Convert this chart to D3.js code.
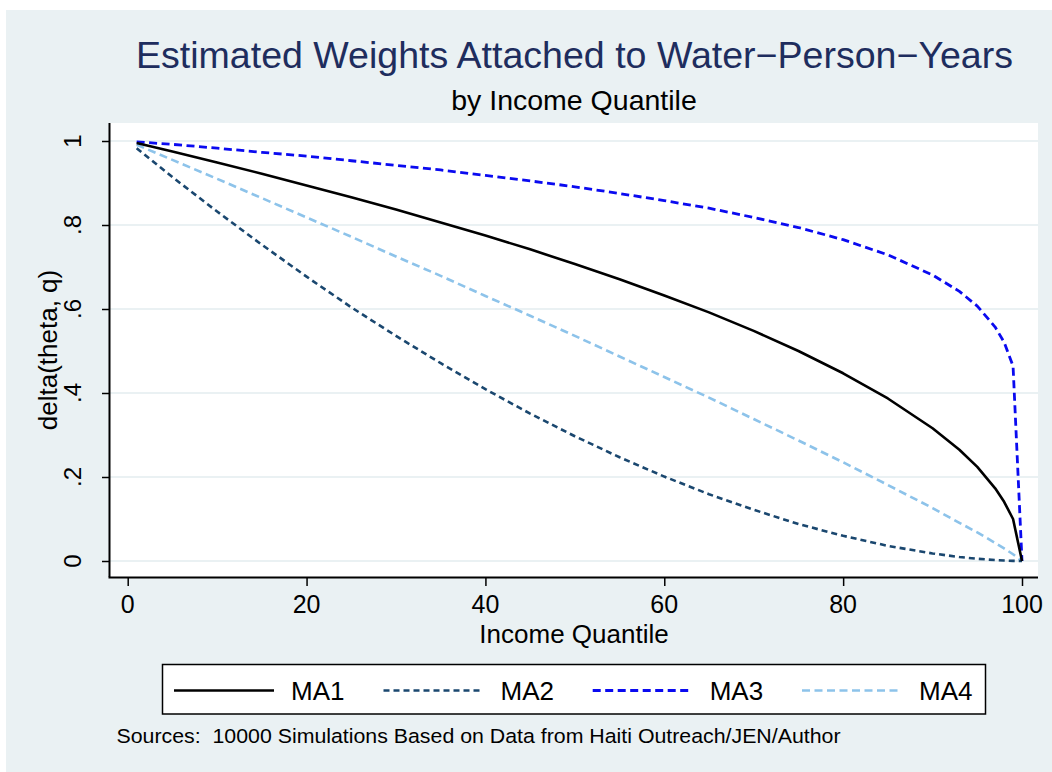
<!DOCTYPE html>
<html>
<head>
<meta charset="utf-8">
<script src="https://cdn.jsdelivr.net/npm/d3@7"></script>
<style>
  html, body { margin: 0; padding: 0; background: #ffffff; }
  svg { display: block; }
  text { font-family: "Liberation Sans", Arial, Helvetica, sans-serif; }
</style>
</head>
<body>
<svg id="chart" width="1052" height="772"></svg>
<script>
// ---- data ----
const quantiles = [1, 5, 10, 15, 20, 25, 30, 35, 40, 45, 50, 55, 60, 65, 70, 75, 80, 85, 90, 93, 95, 97, 98, 99, 100];
const ma1 = [0.995, 0.975, 0.949, 0.922, 0.894, 0.866, 0.837, 0.806, 0.775, 0.742, 0.707, 0.671, 0.632, 0.592, 0.548, 0.500, 0.447, 0.387, 0.316, 0.265, 0.224, 0.173, 0.141, 0.100, 0];
const ma2 = [0.983, 0.914, 0.832, 0.753, 0.677, 0.604, 0.536, 0.471, 0.409, 0.351, 0.297, 0.247, 0.201, 0.159, 0.122, 0.088, 0.060, 0.036, 0.018, 0.0095, 0.0053, 0.0022, 0.0011, 0.0003, 0];
const ma3 = [0.998, 0.992, 0.983, 0.973, 0.964, 0.953, 0.942, 0.931, 0.918, 0.905, 0.891, 0.875, 0.858, 0.840, 0.818, 0.794, 0.765, 0.729, 0.681, 0.642, 0.607, 0.557, 0.521, 0.464, 0];
const ma4 = [0.991, 0.955, 0.910, 0.864, 0.818, 0.772, 0.725, 0.679, 0.631, 0.584, 0.536, 0.487, 0.438, 0.389, 0.338, 0.287, 0.235, 0.181, 0.126, 0.091, 0.068, 0.043, 0.030, 0.016, 0];
const seriesNames = ["MA1", "MA2", "MA3", "MA4"];
const xTicks = [0, 20, 40, 60, 80, 100];
const yTicks = [0, 0.2, 0.4, 0.6, 0.8, 1];
const yTickLabels = ["0", ".2", ".4", ".6", ".8", "1"];
const titleText = "Estimated Weights Attached to Water\u2212Person\u2212Years";
const subtitleText = "by Income Quantile";
const xTitle = "Income Quantile";
const yTitle = "delta(theta, q)";
const noteText = "Sources:  10000 Simulations Based on Data from Haiti Outreach/JEN/Author";

// ---- styling ----
const styles = [
  { color: "#000000", dash: null, width: 2.6 },
  { color: "#1a476f", dash: "6,4", width: 2.6 },
  { color: "#0a0af0", dash: "8,4.5", width: 2.8 },
  { color: "#8dc3ea", dash: "8,4.5", width: 2.6 }
];
const bgColor = "#eaf1f3";
const gridColor = "#eaf1f3";

const svg = d3.select("#chart");

// outer graph region
svg.append("rect").attr("x", 6).attr("y", 10).attr("width", 1046).attr("height", 762).attr("fill", bgColor);

// plot region
const plot = { left: 110, top: 123, right: 1038, bottom: 577 };
svg.append("rect").attr("x", plot.left).attr("y", plot.top)
  .attr("width", plot.right - plot.left).attr("height", plot.bottom - plot.top).attr("fill", "#ffffff");

const x = d3.scaleLinear().domain([0, 100]).range([127.7, 1022]);
const y = d3.scaleLinear().domain([0, 1]).range([561, 141]);

// gridlines
svg.append("g").selectAll("line").data(yTicks).join("line")
  .attr("x1", plot.left).attr("x2", plot.right)
  .attr("y1", d => y(d)).attr("y2", d => y(d))
  .attr("stroke", gridColor).attr("stroke-width", 2);

// series
const series = [ma1, ma2, ma3, ma4];
const line = d3.line().x(d => x(d[0])).y(d => y(d[1]));
[3, 2, 1, 0].forEach(i => {
  const pts = quantiles.map((q, j) => [q, series[i][j]]);
  svg.append("path").datum(pts)
    .attr("d", line)
    .attr("fill", "none")
    .attr("stroke", styles[i].color)
    .attr("stroke-width", styles[i].width)
    .attr("stroke-dasharray", styles[i].dash)
    .attr("stroke-linejoin", "round");
});

// axes
const yAxis = d3.axisLeft(y).tickValues(yTicks).tickSize(8).tickFormat("");
const gy = svg.append("g").attr("transform", `translate(${plot.left},0)`).call(yAxis);
gy.select(".domain").attr("d", `M-0.5,${plot.top}V${plot.bottom}`).attr("stroke", "#000").attr("stroke-width", 2);
gy.selectAll(".tick line").attr("stroke", "#000").attr("stroke-width", 1.5);

const xAxis = d3.axisBottom(x).tickValues(xTicks).tickSize(9).tickFormat("");
const gx = svg.append("g").attr("transform", `translate(0,${plot.bottom})`).call(xAxis);
gx.select(".domain").attr("d", `M${plot.left - 1.5},0.5H${plot.right}`).attr("stroke", "#000").attr("stroke-width", 2);
gx.selectAll(".tick line").attr("stroke", "#000").attr("stroke-width", 1.5);

// x tick labels
svg.append("g").selectAll("text").data(xTicks).join("text")
  .attr("x", d => x(d)).attr("y", 613)
  .attr("text-anchor", "middle").attr("font-size", 25).attr("fill", "#000")
  .text(d => d);

// y tick labels (rotated)
svg.append("g").selectAll("text").data(yTicks).join("text")
  .attr("transform", d => `translate(81,${y(d)}) rotate(-90)`)
  .attr("text-anchor", "middle").attr("font-size", 24).attr("fill", "#000")
  .text((d, i) => yTickLabels[i]);

// axis titles
svg.append("text").attr("x", (plot.left + plot.right) / 2).attr("y", 643)
  .attr("text-anchor", "middle").attr("font-size", 26).attr("fill", "#000").text(xTitle);
svg.append("text").attr("transform", `translate(57,${(plot.top + plot.bottom) / 2}) rotate(-90)`)
  .attr("text-anchor", "middle").attr("font-size", 26).attr("fill", "#000").text(yTitle);

// titles
svg.append("text").attr("x", 574.5).attr("y", 68.3)
  .attr("text-anchor", "middle").attr("font-size", 37)
  .attr("textLength", 877).attr("lengthAdjust", "spacingAndGlyphs")
  .attr("fill", "#1e2d5e").text(titleText);
svg.append("text").attr("x", 574).attr("y", 110)
  .attr("text-anchor", "middle").attr("font-size", 28.5).attr("fill", "#000").text(subtitleText);

// legend
svg.append("rect").attr("x", 162.5).attr("y", 664.5).attr("width", 823).attr("height", 49.5)
  .attr("fill", "#fff").attr("stroke", "#000").attr("stroke-width", 1.5);
const legX = [174, 383.5, 592.7, 802];
const lg = svg.append("g");
seriesNames.forEach((name, i) => {
  lg.append("line").attr("x1", legX[i]).attr("x2", legX[i] + 100)
    .attr("y1", 690.5).attr("y2", 690.5)
    .attr("stroke", styles[i].color).attr("stroke-width", styles[i].width)
    .attr("stroke-dasharray", styles[i].dash);
  lg.append("text").attr("x", legX[i] + 117).attr("y", 699.5)
    .attr("font-size", 26).attr("fill", "#000").text(name);
});

// note
svg.append("text").attr("x", 116.5).attr("y", 743.3)
  .attr("font-size", 20.5).attr("fill", "#000")
  .attr("textLength", 724).attr("lengthAdjust", "spacingAndGlyphs")
  .style("white-space", "pre").text(noteText);
</script>
</body>
</html>
